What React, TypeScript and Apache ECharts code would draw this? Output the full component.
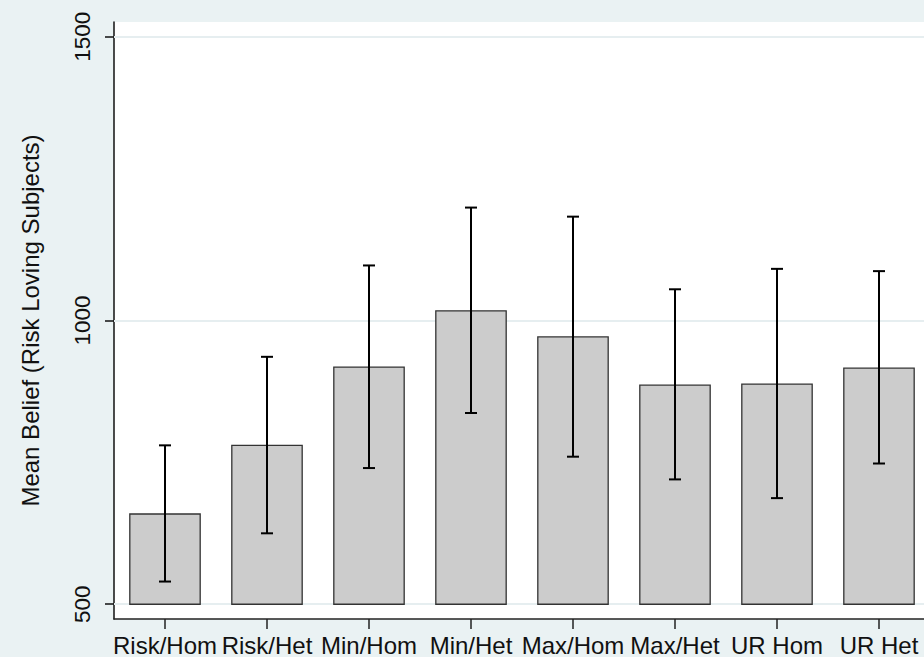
import React, { useEffect, useRef } from "react";
import * as echarts from "echarts";

const categories = ["Risk/Hom", "Risk/Het", "Min/Hom", "Min/Het", "Max/Hom", "Max/Het", "UR Hom", "UR Het"];
const means = [659, 780, 918, 1017, 971, 886, 888, 916];
const upper = [780, 936, 1097, 1199, 1183, 1055, 1091, 1087];
const lower = [540, 625, 740, 837, 760, 720, 687, 748];
const yTicks = [500, 1000, 1500];
const barBase = 500;
const yTitle = "Mean Belief (Risk Loving Subjects)";

const FONT = "Liberation Sans, Arial, Helvetica, sans-serif";

export default function App() {
  const ref = useRef<HTMLDivElement>(null);
  useEffect(() => {
    if (!ref.current) return;
    const chart = echarts.init(ref.current, undefined, { renderer: "svg" });
    const data = categories.map((c, i) => [i, means[i], lower[i], upper[i]]);
    chart.setOption({
      animation: false,
      backgroundColor: "#EAF2F3",
      textStyle: { fontFamily: FONT },
      grid: {
        left: 114,
        top: 22,
        right: 0,
        bottom: 34,
        show: true,
        backgroundColor: "#ffffff",
        borderWidth: 0,
      },
      xAxis: {
        type: "category",
        data: categories,
        axisLine: { show: true, onZero: false, lineStyle: { color: "#222", width: 1.5 } },
        axisTick: { show: true, alignWithLabel: true, length: 10, lineStyle: { color: "#222", width: 1.5 } },
        axisLabel: { interval: 0, fontSize: 24, color: "#111", margin: 14, fontFamily: FONT },
        splitLine: { show: false },
      },
      yAxis: {
        type: "value",
        min: 474,
        max: 1526,
        name: yTitle,
        nameLocation: "middle",
        nameRotate: 90,
        nameGap: 72,
        nameTextStyle: { fontSize: 24, color: "#111", fontFamily: FONT },
        axisLine: { show: true, lineStyle: { color: "#111", width: 1.5 } },
        axisTick: { show: true, customValues: yTicks, length: 9, lineStyle: { color: "#111", width: 1.5 } },
        axisLabel: {
          customValues: yTicks,
          rotate: 90,
          fontSize: 22.5,
          color: "#111",
          margin: 20,
          fontFamily: FONT,
          formatter: (v: number) => String(v),
        },
        splitLine: { show: false },
      },
      series: [
        {
          type: "custom",
          z: 2,
          data,
          encode: { x: 0, y: [1, 2, 3] },
          renderItem: (params: any, api: any) => {
            const i = api.value(0);
            const m = api.value(1);
            const lo = api.value(2);
            const hi = api.value(3);
            const base = api.coord([i, barBase]);
            const top = api.coord([i, m]);
            const pLo = api.coord([i, lo]);
            const pHi = api.coord([i, hi]);
            const w = api.size([1, 0])[0] * 0.69;
            const cap = 6;
            return {
              type: "group",
              children: [
                {
                  type: "rect",
                  shape: { x: base[0] - w / 2, y: top[1], width: w, height: base[1] - top[1] },
                  style: { fill: "#CCCCCC", stroke: "#333333", lineWidth: 1.3 },
                },
                {
                  type: "line",
                  shape: { x1: pLo[0], y1: pLo[1], x2: pHi[0], y2: pHi[1] },
                  style: { stroke: "#000", lineWidth: 2 },
                },
                {
                  type: "line",
                  shape: { x1: pHi[0] - cap, y1: pHi[1], x2: pHi[0] + cap, y2: pHi[1] },
                  style: { stroke: "#000", lineWidth: 2 },
                },
                {
                  type: "line",
                  shape: { x1: pLo[0] - cap, y1: pLo[1], x2: pLo[0] + cap, y2: pLo[1] },
                  style: { stroke: "#000", lineWidth: 2 },
                },
              ],
            };
          },
          markLine: {
            z: 1,
            silent: true,
            symbol: "none",
            label: { show: false },
            lineStyle: { color: "#E6EEF0", width: 2, type: "solid" },
            data: yTicks.map((v) => ({ yAxis: v })),
          },
        },
      ],
    });
    return () => chart.dispose();
  }, []);
  return (
    <div style={{ position: "absolute", left: 0, top: 0, width: 924, height: 657, overflow: "hidden" }}>
      <div ref={ref} style={{ position: "absolute", left: 0, top: 0, width: 930, height: 657 }} />
    </div>
  );
}
